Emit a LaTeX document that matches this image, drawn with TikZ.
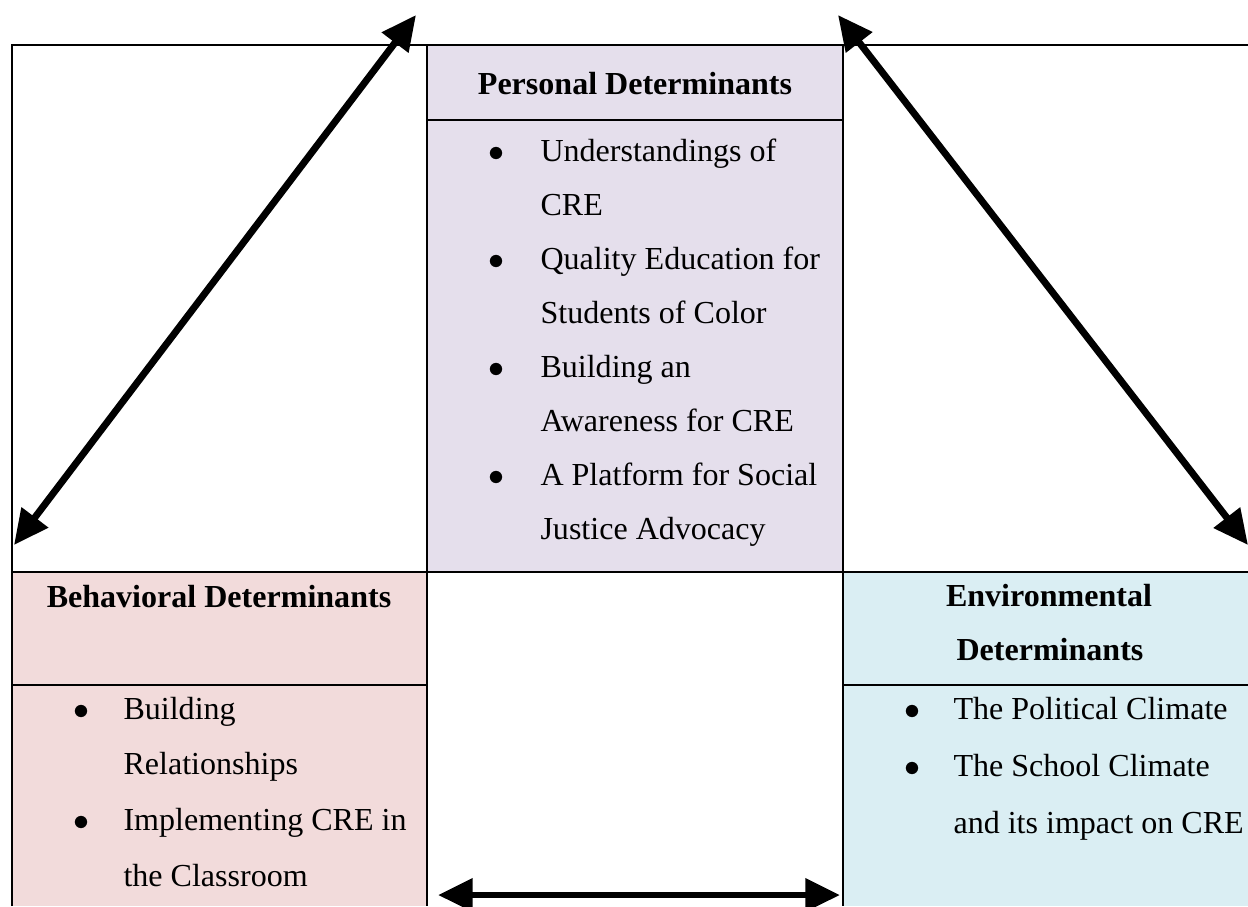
\documentclass[tikz,border=0pt]{standalone}
\usepackage{fontspec}
\setmainfont{Liberation Serif}
\usetikzlibrary{arrows.meta}

\definecolor{personal}{HTML}{E5DFEC}
\definecolor{behavioral}{HTML}{F2DBDB}
\definecolor{environmental}{HTML}{DAEEF3}

\tikzset{
  head/.style={anchor=base, font=\fontsize{12}{14}\selectfont\bfseries},
  item/.style={anchor=base west},
  dot/.style={anchor=base},
  rule/.style={line width=0.8pt},
  frame/.style={line width=1.1pt},
  link/.style={line width=2.6pt,
    {Triangle[length=13pt,width=12pt]}-{Triangle[length=13pt,width=12pt]}},
}

\begin{document}
\begin{tikzpicture}[x=0.3745pt, y=-0.3745pt, inner sep=0pt,
    font=\fontsize{12}{14}\selectfont]
  \useasboundingbox (0,0) rectangle (1248,906);

  % shaded cells
  \fill[personal] (427,45) rectangle (843,572);
  \fill[behavioral] (12,572) rectangle (427,906);
  \fill[environmental] (843,572) rectangle (1260,906);

  % table rules
  \draw[frame] (12,906) -- (12,45) -- (1260,45);
  \draw[rule] (12,572) -- (1260,572);
  \draw[rule] (427,45) -- (427,906);
  \draw[rule] (843,45) -- (843,906);
  \draw[rule] (427,120) -- (843,120);
  \draw[rule] (12,685) -- (427,685);
  \draw[rule] (843,685) -- (1260,685);

  % personal determinants
  \node[head] (ph) at (635,94) {Personal Determinants};
  \node[dot] (pb1) at (497,161) {$\bullet$};
  \node[item] (p1) at (540,161) {Understandings of};
  \node[item] (p2) at (540,215) {CRE};
  \node[dot] (pb2) at (497,269) {$\bullet$};
  \node[item] (p3) at (540,269) {Quality Education for};
  \node[item] (p4) at (540,323) {Students of Color};
  \node[dot] (pb3) at (497,377) {$\bullet$};
  \node[item] (p5) at (540,377) {Building an};
  \node[item] (p6) at (540,431) {Awareness for CRE};
  \node[dot] (pb4) at (497,485) {$\bullet$};
  \node[item] (p7) at (540,485) {A Platform for Social};
  \node[item] (p8) at (540,539) {Justice Advocacy};

  % behavioral determinants
  \node[head] (bh) at (219,607) {Behavioral Determinants};
  \node[dot] (bb1) at (82,719) {$\bullet$};
  \node[item] (b1) at (123,719) {Building};
  \node[item] (b2) at (123,774) {Relationships};
  \node[dot] (bb2) at (82,830) {$\bullet$};
  \node[item] (b3) at (123,830) {Implementing CRE in};
  \node[item] (b4) at (123,886) {the Classroom};

  % environmental determinants
  \node[head] (eh1) at (1049,606) {Environmental};
  \node[head] (eh2) at (1050,660) {Determinants};
  \node[dot] (eb1) at (913,719) {$\bullet$};
  \node[item] (e1) at (953,719) {The Political Climate};
  \node[dot] (eb2) at (913,776) {$\bullet$};
  \node[item] (e2) at (953,776) {The School Climate};
  \node[item] (e3) at (953,833) {and its impact on CRE};

  % reciprocal links
  \coordinate (lb) at (14,545);
  \coordinate (lt) at (416,15);
  \coordinate (rt) at (838,15);
  \coordinate (rb) at (1248,545);
  \coordinate (ml) at (438,895);
  \coordinate (mr) at (840,895);
  \draw[link] (lb) -- (lt);
  \draw[link] (rt) -- (rb);
  \draw[link] (ml) -- (mr);
\end{tikzpicture}
\end{document}
